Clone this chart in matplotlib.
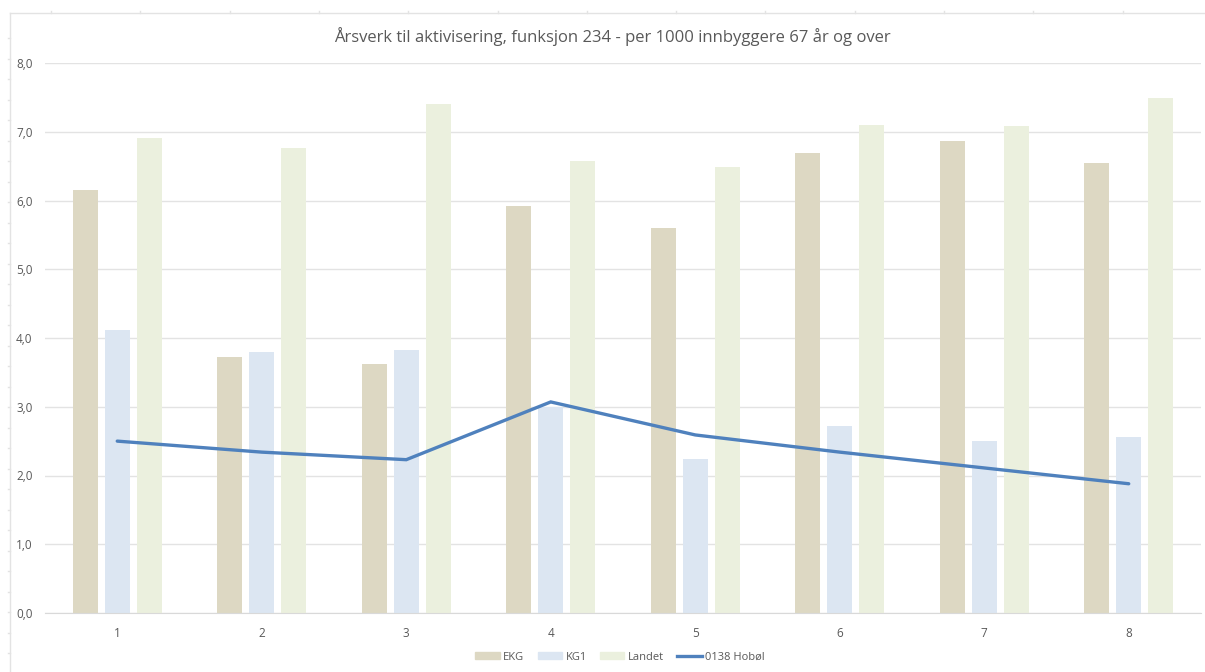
import matplotlib
matplotlib.use("Agg")
import matplotlib.pyplot as plt
from matplotlib.lines import Line2D
import numpy as np

categories = ["1", "2", "3", "4", "5", "6", "7", "8"]
ekg = [6.15, 3.72, 3.62, 5.92, 5.60, 6.69, 6.87, 6.55]
kg1 = [4.12, 3.80, 3.83, 3.00, 2.24, 2.72, 2.50, 2.56]
landet = [6.91, 6.76, 7.40, 6.57, 6.49, 7.10, 7.08, 7.49]
hobol = [2.50, 2.34, 2.23, 3.07, 2.59, 2.34, 2.11, 1.88]
yticks = [0, 1, 2, 3, 4, 5, 6, 7, 8]

plt.rcParams['font.family'] = ['Open Sans', 'DejaVu Sans']

fig = plt.figure(figsize=(12.05, 6.72), dpi=100)
ax = fig.add_axes([45/1205, 1-613/672, (1201-45)/1205, (613-63)/672])

x = np.arange(1, len(categories) + 1)
w = 0.173
off = 0.222
ax.bar(x - off, ekg, w, color="#DDD8C3", label="EKG", zorder=2)
ax.bar(x, kg1, w, color="#DCE6F2", label="KG1", zorder=2)
ax.bar(x + off, landet, w, color="#EBF0DE", label="Landet", zorder=2)
ax.plot(x, hobol, color="#4F81BD", lw=2.4, label="0138 Hobøl", zorder=3,
        solid_capstyle="round", solid_joinstyle="miter")

ax.set_xlim(0.5, 8.5)
ax.set_ylim(0, 8)
ax.set_yticks(yticks)
ax.set_yticklabels([f"{v:.1f}".replace(".", ",") for v in yticks])
ax.set_xticks(x)
ax.set_xticklabels(categories)
ax.grid(axis="y", color="#E3E3E3", lw=1, zorder=0)
for s in ["top", "right", "left"]:
    ax.spines[s].set_visible(False)
ax.spines["bottom"].set_color("#D9D9D9")
ax.tick_params(axis="both", length=0, labelsize=8.5, colors="#595959")
ax.tick_params(axis="y", pad=9)
ax.tick_params(axis="x", pad=10)

fig.text(0.508, 1-37/672, "Årsverk til aktivisering, funksjon 234 - per 1000 innbyggere 67 år og over",
         ha="center", va="center", fontsize=12, color="#595959")

handles = [
    plt.Rectangle((0, 0), 1, 1, color="#DDD8C3"),
    plt.Rectangle((0, 0), 1, 1, color="#DCE6F2"),
    plt.Rectangle((0, 0), 1, 1, color="#EBF0DE"),
    Line2D([0], [0], color="#4F81BD", lw=2.4),
]
fig.legend(handles, ["EKG", "KG1", "Landet", "0138 Hobøl"], loc="center",
           bbox_to_anchor=(620/1205, 1-657/672), ncol=4, frameon=False,
           fontsize=8, labelcolor="#595959", handlelength=2.2, handleheight=0.5,
           columnspacing=1.2, handletextpad=0.3)

# outer sheet frame
fig.add_artist(Line2D([10/1205, 1], [1-13/672, 1-13/672], color="#E3E3E3", lw=1, transform=fig.transFigure))
fig.add_artist(Line2D([10/1205, 10/1205], [0, 1-13/672], color="#E3E3E3", lw=1, transform=fig.transFigure))
for tx in np.arange(51, 1205, 89.3):
    fig.add_artist(Line2D([tx/1205, tx/1205], [1-13/672, 1-11/672], color="#E3E3E3", lw=1, transform=fig.transFigure))
for ty in np.arange(38, 672, 20.5):
    fig.add_artist(Line2D([8/1205, 10/1205], [1-ty/672, 1-ty/672], color="#E3E3E3", lw=1, transform=fig.transFigure))

fig.savefig("out.png", dpi=100)
